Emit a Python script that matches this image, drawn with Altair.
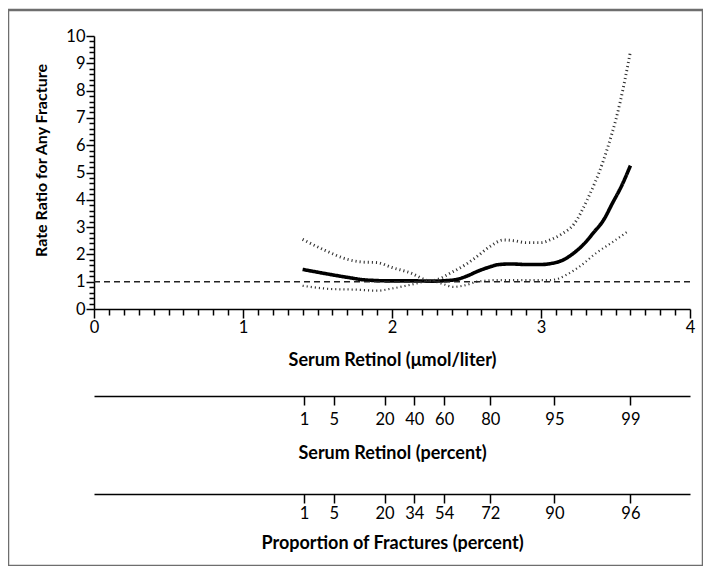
import json
import altair as alt
import pandas as pd

# ---- curve data ----
main_x = [1.40, 1.55, 1.70, 1.83, 2.00, 2.15, 2.26, 2.41, 2.50, 2.57, 2.65, 2.72, 2.80, 2.90,
          3.00, 3.08, 3.15, 3.22, 3.30, 3.35, 3.42, 3.48, 3.54, 3.60]
main_y = [1.45, 1.30, 1.16, 1.06, 1.03, 1.03, 1.02, 1.06, 1.20, 1.37, 1.53, 1.63, 1.65, 1.63,
          1.63, 1.68, 1.80, 2.05, 2.45, 2.78, 3.26, 3.88, 4.50, 5.25]

upper_x = [1.40, 1.55, 1.70, 1.80, 1.90, 2.00, 2.12, 2.26, 2.41, 2.50, 2.57, 2.66, 2.75, 2.82,
           2.90, 3.00, 3.06, 3.14, 3.22, 3.31, 3.42, 3.53, 3.60]
upper_y = [2.55, 2.15, 1.82, 1.72, 1.70, 1.52, 1.33, 1.03, 1.37, 1.65, 1.92, 2.30, 2.53, 2.50,
           2.43, 2.43, 2.53, 2.75, 3.10, 4.00, 5.46, 7.55, 9.42]

lower_x = [1.40, 1.60, 1.75, 1.90, 2.00, 2.12, 2.26, 2.35, 2.41, 2.50, 2.57, 2.72, 2.90, 3.06,
           3.12, 3.17, 3.27, 3.37, 3.48, 3.59]
lower_y = [0.85, 0.73, 0.71, 0.67, 0.75, 0.88, 1.03, 0.90, 0.81, 0.88, 1.00, 1.06, 1.06, 1.06,
           1.12, 1.25, 1.60, 2.05, 2.45, 2.87]

ref_x = [0.0, 4.0]
ref_y = [1.0, 1.0]

# ---- secondary scales: position (serum retinol) of each percentile tick ----
pct_pos = [1.41, 1.61, 1.95, 2.15, 2.35, 2.66, 3.09, 3.60]
retinol_pct = ["1", "5", "20", "40", "60", "80", "95", "99"]
fracture_pct = ["1", "5", "20", "34", "54", "72", "90", "96"]

series_names = ["fit", "upper", "lower", "ref"]

rows = []
for name, xs, ys in [("fit", main_x, main_y), ("upper", upper_x, upper_y),
                     ("lower", lower_x, lower_y), ("ref", ref_x, ref_y)]:
    for a, b in zip(xs, ys):
        rows.append({"x": a, "rr": b, "series": name})
df = pd.DataFrame(rows)

# pixel geometry of the view (whole framed figure)
W, H = 695, 556
X_RANGE = [86, 682]
Y_RANGE = [299, 26]

x_vals = [round(i * 0.1, 1) for i in range(41)]
y_vals = [round(i * 0.2, 1) for i in range(51)]
int_label = "datum.value % 1 === 0 ? format(datum.value, '.0f') : ''"

lines = alt.Chart(df).mark_line(interpolate="monotone").encode(
    x=alt.X("x:Q",
            scale=alt.Scale(domain=[0, 4], range=X_RANGE, nice=False, zero=False),
            axis=alt.Axis(values=x_vals, offset=Y_RANGE[0] - H,
                          labelExpr=int_label, labelFlush=False, labelOverlap=False,
                          tickSize={"condition": {"test": "datum.value % 1 === 0", "value": 9}, "value": 6},
                          labelPadding=1, titlePadding=16, titleFontSize=18,
                          title="Serum Retinol (μmol/liter)")),
    y=alt.Y("rr:Q",
            scale=alt.Scale(domain=[0, 10], range=Y_RANGE, nice=False),
            axis=alt.Axis(values=y_vals, offset=-X_RANGE[0],
                          labelExpr=int_label, labelFlush=False, labelOverlap=False,
                          tickSize={"condition": {"test": "datum.value % 1 === 0", "value": 8}, "value": 5},
                          labelPadding=1, titlePadding=16, titleY=150, titleFontSize=16,
                          title="Rate Ratio for Any Fracture")),
    color=alt.Color("series:N", legend=None,
                    scale=alt.Scale(domain=series_names, range=["#000000", "#333333", "#333333", "#222222"])),
    strokeWidth=alt.StrokeWidth("series:N", legend=None,
                                scale=alt.Scale(domain=series_names, range=[3.6, 1.5, 1.5, 1.3])),
    strokeDash=alt.StrokeDash("series:N", legend=None,
                              scale=alt.Scale(domain=series_names,
                                              range=[[1, 0], [1.1, 3], [1.1, 3], [6, 4]])),
)


def pct_layer(labels, title, line_y, label_pad, title_pad):
    d = pd.DataFrame({"pos": pct_pos, "lab": labels})
    expr = f"{json.dumps(labels)}[indexof({json.dumps(pct_pos)}, datum.value)]"
    return alt.Chart(d).mark_point(opacity=0).encode(
        x=alt.X("pos:Q",
                scale=alt.Scale(domain=[0, 4], range=X_RANGE, nice=False, zero=False),
                axis=alt.Axis(values=pct_pos, labelExpr=expr, orient="bottom",
                              labelFlush=False, labelOverlap=False,
                              offset=line_y - H, tickSize=9, labelPadding=label_pad,
                              titlePadding=title_pad, titleFontSize=18, title=title))
    )


pct1 = pct_layer(retinol_pct, "Serum Retinol (percent)", 386, 6, 17)
pct2 = pct_layer(fracture_pct, "Proportion of Fractures (percent)", 484, 2, 13)

chart = alt.layer(lines, pct1, pct2).resolve_scale(x="independent").properties(
    width=W, height=H,
    autosize=alt.AutoSizeParams(type="none"),
    padding={"left": 0, "top": 2, "right": 0, "bottom": 0},
).configure_view(
    stroke="#6e6e6e", strokeWidth=2.5
).configure_axis(
    grid=False,
    domainColor="#000000", domainWidth=1.5,
    tickColor="#000000", tickWidth=1.5,
    labelFont="Lato", labelFontSize=16.5, labelColor="#000000",
    titleFont="Lato", titleFontWeight="bold", titleColor="#000000",
)

chart.save("out.html", embed_options={"renderer": "svg", "actions": False})
